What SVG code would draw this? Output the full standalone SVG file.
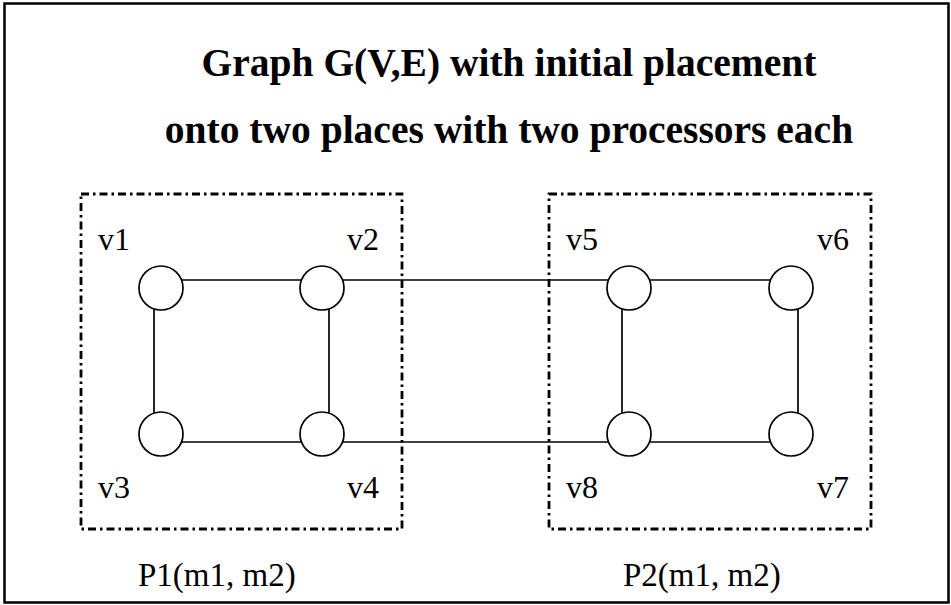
<svg xmlns="http://www.w3.org/2000/svg" width="951" height="605" viewBox="0 0 951 605">
<style>
text{font-family:'Liberation Serif','Times New Roman','DejaVu Serif',serif;fill:#000}
.title{font-weight:bold;font-size:39.5px}
.lbl{font-size:32px}
.plbl{font-size:33px}
.place{fill:none;stroke:#000;stroke-width:2.8;stroke-dasharray:8 4 2.5 4}
.edge{stroke:#000;stroke-width:1.7;fill:none}
.node circle{fill:#fff;stroke:#000;stroke-width:1.7}
</style>
<rect x="4.5" y="3.5" width="944" height="599" fill="#fff" stroke="#000" stroke-width="2.5"/>
<text class="title" x="509" y="76" text-anchor="middle" font-family="Liberation Serif, serif">Graph G(V,E) with initial placement</text>
<text class="title" x="509" y="143" text-anchor="middle" font-family="Liberation Serif, serif">onto two places with two processors each</text>
<g id="place-P1">
<rect class="place" x="81" y="194" width="321" height="335"/>
<text class="plbl" x="138" y="586" font-family="Liberation Serif, serif">P1(m1, m2)</text>
</g>
<g id="place-P2">
<rect class="place" x="549" y="194" width="322" height="335"/>
<text class="plbl" x="623" y="586" font-family="Liberation Serif, serif">P2(m1, m2)</text>
</g>
<g id="connectors">
<line class="edge" x1="161" y1="280" x2="322" y2="280"/>
<line class="edge" x1="322" y1="280" x2="629" y2="280"/>
<line class="edge" x1="629" y1="280" x2="791" y2="280"/>
<line class="edge" x1="161" y1="442" x2="322" y2="442"/>
<line class="edge" x1="322" y1="442" x2="629" y2="442"/>
<line class="edge" x1="629" y1="442" x2="791" y2="442"/>
<line class="edge" x1="154" y1="288" x2="154" y2="434"/>
<line class="edge" x1="329" y1="288" x2="329" y2="434"/>
<line class="edge" x1="622" y1="288" x2="622" y2="434"/>
<line class="edge" x1="798" y1="288" x2="798" y2="434"/>
</g>
<g id="v1" class="node"><circle cx="161" cy="288" r="22"/><text class="lbl" x="98" y="250" font-family="Liberation Serif, serif">v1</text></g>
<g id="v2" class="node"><circle cx="322" cy="288" r="22"/><text class="lbl" x="347" y="250" font-family="Liberation Serif, serif">v2</text></g>
<g id="v3" class="node"><circle cx="161" cy="434" r="22"/><text class="lbl" x="98" y="498" font-family="Liberation Serif, serif">v3</text></g>
<g id="v4" class="node"><circle cx="322" cy="434" r="22"/><text class="lbl" x="347" y="498" font-family="Liberation Serif, serif">v4</text></g>
<g id="v5" class="node"><circle cx="629" cy="288" r="22"/><text class="lbl" x="566" y="250" font-family="Liberation Serif, serif">v5</text></g>
<g id="v6" class="node"><circle cx="791" cy="288" r="22"/><text class="lbl" x="817" y="250" font-family="Liberation Serif, serif">v6</text></g>
<g id="v7" class="node"><circle cx="791" cy="434" r="22"/><text class="lbl" x="817" y="498" font-family="Liberation Serif, serif">v7</text></g>
<g id="v8" class="node"><circle cx="629" cy="434" r="22"/><text class="lbl" x="566" y="498" font-family="Liberation Serif, serif">v8</text></g>
</svg>
